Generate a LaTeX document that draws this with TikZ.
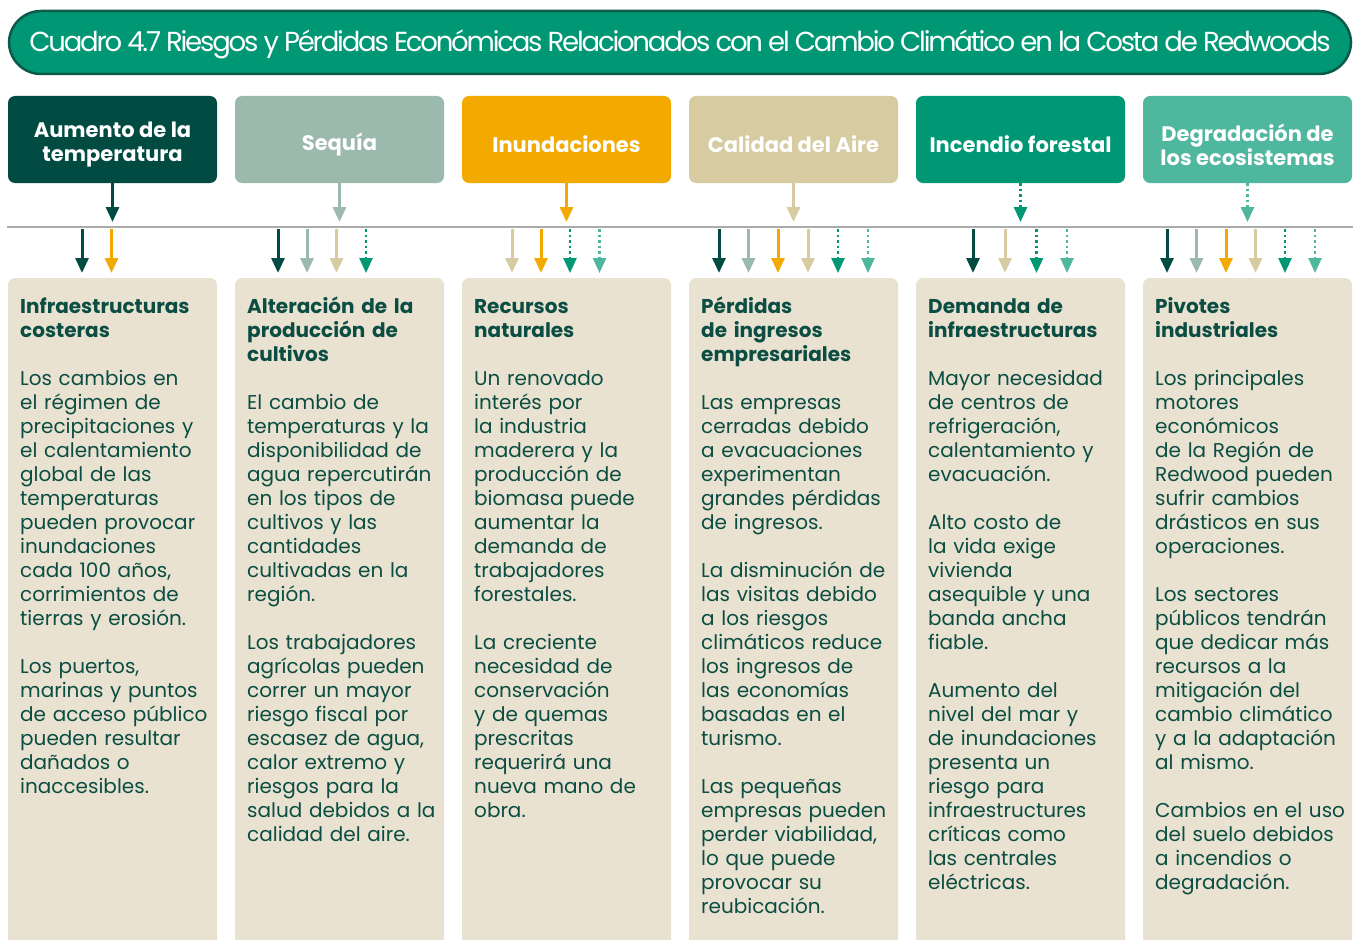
\documentclass[tikz,border=0pt]{standalone}
\usepackage{fontspec}
\setmainfont{Poppins}
\newfontfamily\titlefont[LetterSpace=-8.0]{Poppins}
\usetikzlibrary{arrows.meta, positioning}

\definecolor{cDark}{HTML}{024B42}
\definecolor{cSage}{HTML}{9BB9AD}
\definecolor{cOrange}{HTML}{F2AA00}
\definecolor{cTan}{HTML}{D6CBA1}
\definecolor{cGreen}{HTML}{009874}
\definecolor{cLight}{HTML}{4EB79E}
\definecolor{cBeige}{HTML}{E9E2D0}
\definecolor{cRule}{HTML}{ABABAB}
\definecolor{cText}{HTML}{0B4D43}
\definecolor{cBorder}{HTML}{0C5A4A}

\begin{document}
\begin{tikzpicture}[
    x=1pt, y=-1pt,
    titlebox/.style={rectangle, rounded corners=32pt, draw=cBorder, line width=2.5pt, fill=cGreen, minimum width=1342pt, minimum height=63pt},
    titletxt/.style={text=white, font=\titlefont\fontsize{27.5}{30}\selectfont, yshift=-2pt},
    hdr/.style={rectangle, rounded corners=7pt, minimum width=209pt, minimum height=87pt, inner sep=0pt, outer sep=0pt},
    hlab/.style={text=white, align=center, yshift=-5pt, font=\fontsize{21}{24}\selectfont\bfseries},
    card/.style={rectangle, rounded corners=7pt, fill=cBeige, minimum width=209pt, minimum height=680pt, inner sep=0pt, outer sep=0pt},
    txt/.style={anchor=north west, inner sep=0pt, text width=205pt, align=left, text=cText, font=\fontsize{20}{24}\selectfont},
    arr/.style={line width=3pt, -{Triangle[length=15pt, width=13pt]}, shorten >=5pt},
    aDark/.style={arr, cDark},
    aSage/.style={arr, cSage},
    aOrange/.style={arr, cOrange},
    aTan/.style={arr, cTan},
    aGreen/.style={arr, cGreen, line width=2.6pt, dash pattern=on 2.6pt off 3pt},
    aLight/.style={arr, cLight, line width=2.6pt, dash pattern=on 2.6pt off 3pt},
    node distance=18pt
]
\useasboundingbox (0,0) rectangle (1364,939);
\clip (0,0) rectangle (1364,939);

% title
\node[titlebox, label={[titletxt]center:Cuadro 4.7 Riesgos y Pérdidas Económicas Relacionados con el Cambio Climático en la Costa de Redwoods}] (title) at (680,42.5) {};

% hazards
\node[hdr, fill=cDark, label={[hlab]center:{Aumento de la\\temperatura}}] (h1) at (112.5,139.5) {};
\node[hdr, fill=cSage, right=of h1, label={[hlab]center:Sequía}] (h2) {};
\node[hdr, fill=cOrange, right=of h2, label={[hlab]center:Inundaciones}] (h3) {};
\node[hdr, fill=cTan, right=of h3, label={[hlab]center:Calidad del Aire}] (h4) {};
\node[hdr, fill=cGreen, right=of h4, label={[hlab]center:Incendio forestal}] (h5) {};
\node[hdr, fill=cLight, right=of h5, label={[hlab]center:{Degradación de\\los ecosistemas}}] (h6) {};

% rule
\coordinate (ruleL) at (7,227);
\coordinate (ruleR) at (1353,227);
\draw[cRule, line width=2.5pt] (ruleL) -- (ruleR);

% cards
\node[card, below=95pt of h1] (b1) {};
\node[card, below=95pt of h2] (b2) {};
\node[card, below=95pt of h3] (b3) {};
\node[card, below=95pt of h4] (b4) {};
\node[card, below=95pt of h5] (b5) {};
\node[card, below=95pt of h6] (b6) {};

\draw[aDark] (h1) -- (h1.south |- ruleL);
\draw[aSage] (h2) -- (h2.south |- ruleL);
\draw[aOrange] (h3) -- (h3.south |- ruleL);
\draw[aTan] (h4) -- (h4.south |- ruleL);
\draw[aGreen] (h5) -- (h5.south |- ruleL);
\draw[aLight] (h6) -- (h6.south |- ruleL);

% impacts per card
\foreach \dx/\s in {-30.5/aDark, -1/aOrange}
  \draw[\s] ([xshift=\dx pt, yshift=49pt]b1.north) -- ([xshift=\dx pt]b1.north);
\foreach \dx/\s in {-61.5/aDark, -32.5/aSage, -3/aTan, 26.5/aGreen}
  \draw[\s] ([xshift=\dx pt, yshift=49pt]b2.north) -- ([xshift=\dx pt]b2.north);
\foreach \dx/\s in {-54.5/aTan, -25.5/aOrange, 3.5/aGreen, 33/aLight}
  \draw[\s] ([xshift=\dx pt, yshift=49pt]b3.north) -- ([xshift=\dx pt]b3.north);
\foreach \dx/\s in {-74.5/aDark, -45/aSage, -15.5/aOrange, 14.5/aTan, 44.5/aGreen, 74.5/aLight}
  \draw[\s] ([xshift=\dx pt, yshift=49pt]b4.north) -- ([xshift=\dx pt]b4.north);
\foreach \dx/\s in {-47.5/aDark, -15.5/aTan, 16/aGreen, 46.5/aLight}
  \draw[\s] ([xshift=\dx pt, yshift=49pt]b5.north) -- ([xshift=\dx pt]b5.north);
\foreach \dx/\s in {-80.5/aDark, -51/aSage, -21.5/aOrange, 8/aTan, 37.5/aGreen, 67.5/aLight}
  \draw[\s] ([xshift=\dx pt, yshift=49pt]b6.north) -- ([xshift=\dx pt]b6.north);

% texts
\node[txt] (t1) at ([xshift=12pt, yshift=-18pt]b1.north west) {\rule{0pt}{17pt}{\bfseries Infraestructuras\\costeras}\\[24pt]
Los cambios en\\el régimen de\\precipitaciones y\\el calentamiento\\global de las\\temperaturas\\pueden provocar\\inundaciones\\cada 100 años,\\corrimientos de\\tierras y erosión.\\[24pt]
Los puertos,\\marinas y puntos\\de acceso público\\pueden resultar\\dañados o\\inaccesibles.};

\node[txt] (t2) at ([xshift=12pt, yshift=-18pt]b2.north west) {\rule{0pt}{17pt}{\bfseries Alteración de la\\producción de\\cultivos}\\[24pt]
El cambio de\\temperaturas y la\\disponibilidad de\\agua repercutirán\\en los tipos de\\cultivos y las\\cantidades\\cultivadas en la\\región.\\[24pt]
Los trabajadores\\agrícolas pueden\\correr un mayor\\riesgo fiscal por\\escasez de agua,\\calor extremo y\\riesgos para la\\salud debidos a la\\calidad del aire.};

\node[txt] (t3) at ([xshift=12pt, yshift=-18pt]b3.north west) {\rule{0pt}{17pt}{\bfseries Recursos\\naturales}\\[24pt]
Un renovado\\interés por\\la industria\\maderera y la\\producción de\\biomasa puede\\aumentar la\\demanda de\\trabajadores\\forestales.\\[24pt]
La creciente\\necesidad de\\conservación\\y de quemas\\prescritas\\requerirá una\\nueva mano de\\obra.};

\node[txt] (t4) at ([xshift=12pt, yshift=-18pt]b4.north west) {\rule{0pt}{17pt}{\bfseries Pérdidas\\de ingresos\\empresariales}\\[24pt]
Las empresas\\cerradas debido\\a evacuaciones\\experimentan\\grandes pérdidas\\de ingresos.\\[24pt]
La disminución de\\las visitas debido\\a los riesgos\\climáticos reduce\\los ingresos de\\las economías\\basadas en el\\turismo.\\[24pt]
Las pequeñas\\empresas pueden\\perder viabilidad,\\lo que puede\\provocar su\\reubicación.};

\node[txt] (t5) at ([xshift=12pt, yshift=-18pt]b5.north west) {\rule{0pt}{17pt}{\bfseries Demanda de\\infraestructuras}\\[24pt]
Mayor necesidad\\de centros de\\refrigeración,\\calentamiento y\\evacuación.\\[24pt]
Alto costo de\\la vida exige\\vivienda\\asequible y una\\banda ancha\\fiable.\\[24pt]
Aumento del\\nivel del mar y\\de inundaciones\\presenta un\\riesgo para\\infraestructures\\críticas como\\las centrales\\eléctricas.};

\node[txt] (t6) at ([xshift=12pt, yshift=-18pt]b6.north west) {\rule{0pt}{17pt}{\bfseries Pivotes\\industriales}\\[24pt]
Los principales\\motores\\económicos\\de la Región de\\Redwood pueden\\sufrir cambios\\drásticos en sus\\operaciones.\\[24pt]
Los sectores\\públicos tendrán\\que dedicar más\\recursos a la\\mitigación del\\cambio climático\\y a la adaptación\\al mismo.\\[24pt]
Cambios en el uso\\del suelo debidos\\a incendios o\\degradación.};

\end{tikzpicture}
\end{document}
